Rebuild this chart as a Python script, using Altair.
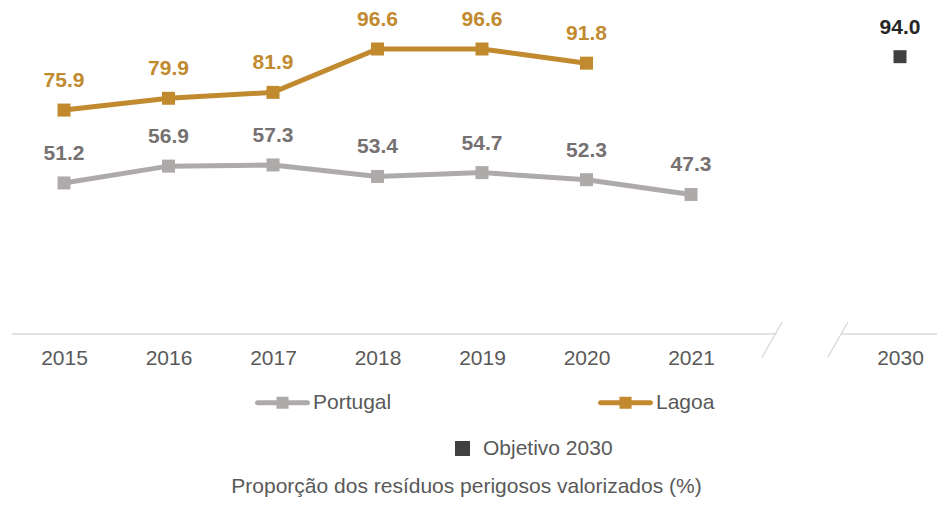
import json
import altair as alt
import pandas as pd

# ---- data ----
years = ["2015", "2016", "2017", "2018", "2019", "2020", "2021"]
portugal = [51.2, 56.9, 57.3, 53.4, 54.7, 52.3, 47.3]
lagoa = [75.9, 79.9, 81.9, 96.6, 96.6, 91.8]
target_year = "2030"
target_value = [94.0]
series_names = ["Portugal", "Lagoa"]
target_name = "Objetivo 2030"
title_text = "Proporção dos resíduos perigosos valorizados (%)"

# category slots on the x axis (an empty slot makes the axis break)
categories = years + [""] + [target_year]

rows = []
for i, v in enumerate(portugal):
    rows.append({"series": "Portugal", "idx": categories.index(years[i]), "value": v})
for i, v in enumerate(lagoa):
    rows.append({"series": "Lagoa", "idx": categories.index(years[i]), "value": v})
df = pd.DataFrame(rows)
df["label"] = df["value"].map(lambda v: f"{v:.1f}")

df_target = pd.DataFrame({"series": [target_name],
                          "idx": [categories.index(target_year)],
                          "value": target_value})
df_target["label"] = df_target["value"].map(lambda v: f"{v:.1f}")

# axis line with a break, and the two break slashes (decoration)
df_axis = pd.DataFrame({"x": [-0.5, 7.44], "x2": [6.82, 8.354], "y": [0, 0]})
df_slash = pd.DataFrame({"x": [6.68, 7.31], "x2": [6.87, 7.50], "y": [-7.9, -7.9], "y2": [4.0, 4.0]})

FONT = "Liberation Sans, Arial, sans-serif"
FS = 21
GOLD = "#C18A2F"
GREY_LINE = "#AEAAAA"
GREY_LABEL = "#767171"
DARK = "#404040"
AXIS_TXT = "#595959"

xscale = alt.Scale(domain=[-0.536, 8.354], nice=False, zero=False)
yscale = alt.Scale(domain=[0, 110.5], nice=False, zero=False)
label_expr = json.dumps(categories) + "[datum.value]"
xaxis = alt.Axis(values=[categories.index(c) for c in categories if c],
                 labelExpr=label_expr, domain=False, ticks=False, grid=False,
                 title=None, labelFontSize=FS, labelColor=AXIS_TXT, labelFont=FONT,
                 labelPadding=13)

X = alt.X("idx:Q", scale=xscale, axis=xaxis)
Y = alt.Y("value:Q", scale=yscale, axis=None)

axis_line = alt.Chart(df_axis).mark_rule(color="#D9D9D9", strokeWidth=1.5).encode(
    x=alt.X("x:Q", scale=xscale, axis=xaxis), x2="x2:Q",
    y=alt.Y("y:Q", scale=yscale, axis=None))

slashes = alt.Chart(df_slash).mark_rule(color="#D4D4D4", strokeWidth=1.2).encode(
    x=alt.X("x:Q", scale=xscale, axis=xaxis), x2="x2:Q",
    y=alt.Y("y:Q", scale=yscale, axis=None), y2="y2:Q")

color_scale = alt.Scale(domain=series_names, range=[GREY_LINE, GOLD])

lines = alt.Chart(df).mark_line(strokeWidth=5).encode(
    x=X, y=Y, color=alt.Color("series:N", scale=color_scale, legend=None))

legend_path = ("M-0.91,-0.09H0.91A0.09,0.09 0 0 1 0.91,0.09H-0.91A0.09,0.09 0 0 1 -0.91,-0.09Z"
               "M-0.22,-0.22H0.22V0.22H-0.22Z")

points = alt.Chart(df).mark_point(shape="square", filled=True, size=169, opacity=1).encode(
    x=X, y=Y,
    color=alt.Color("series:N", scale=color_scale,
                    legend=alt.Legend(title=None, orient="none", direction="horizontal",
                                      columns=2, legendX=247, legendY=367,
                                      symbolType=legend_path, symbolSize=3025,
                                      symbolStrokeWidth=0, symbolOpacity=1,
                                      labelFontSize=FS, labelFont=FONT, labelColor=AXIS_TXT,
                                      labelOffset=3, columnPadding=205, padding=0)))

text_pt = alt.Chart(df).transform_filter(alt.datum.series == "Portugal").mark_text(
    baseline="alphabetic", dy=-23, fontSize=FS, fontWeight="bold", font=FONT, color=GREY_LABEL
).encode(x=X, y=Y, text="label:N")

text_lg = alt.Chart(df).transform_filter(alt.datum.series == "Lagoa").mark_text(
    baseline="alphabetic", dy=-23, fontSize=FS, fontWeight="bold", font=FONT, color=GOLD
).encode(x=X, y=Y, text="label:N")

target_pt = alt.Chart(df_target).mark_point(shape="square", filled=True, size=169, opacity=1).encode(
    x=X, y=Y,
    color=alt.Color("series:N", scale=alt.Scale(domain=[target_name], range=[DARK]),
                    legend=alt.Legend(title=None, orient="none", legendX=444, legendY=430,
                                      symbolType="square", symbolSize=225,
                                      symbolStrokeWidth=0, symbolOpacity=1,
                                      labelFontSize=FS, labelFont=FONT, labelColor=AXIS_TXT,
                                      labelOffset=10, padding=0)))

target_txt = alt.Chart(df_target).mark_text(
    baseline="alphabetic", dy=-23, fontSize=FS, fontWeight="bold", font=FONT, color="#262626"
).encode(x=X, y=Y, text="label:N")

chart = alt.layer(axis_line, slashes, lines, points, text_pt, text_lg, target_pt, target_txt).resolve_scale(
    color="independent"
).properties(
    width=929, height=326,
    autosize=alt.AutoSizeParams(type="none"),
    padding={"left": 0, "top": 0, "right": 0, "bottom": 164},
    title=alt.TitleParams(title_text, orient="bottom", anchor="middle", fontSize=FS,
                          fontWeight="normal", font=FONT, color=AXIS_TXT, offset=17, dx=-6),
    background="white",
).configure_view(stroke=None)

chart.save("out.html", embed_options={"renderer": "svg", "actions": False})
